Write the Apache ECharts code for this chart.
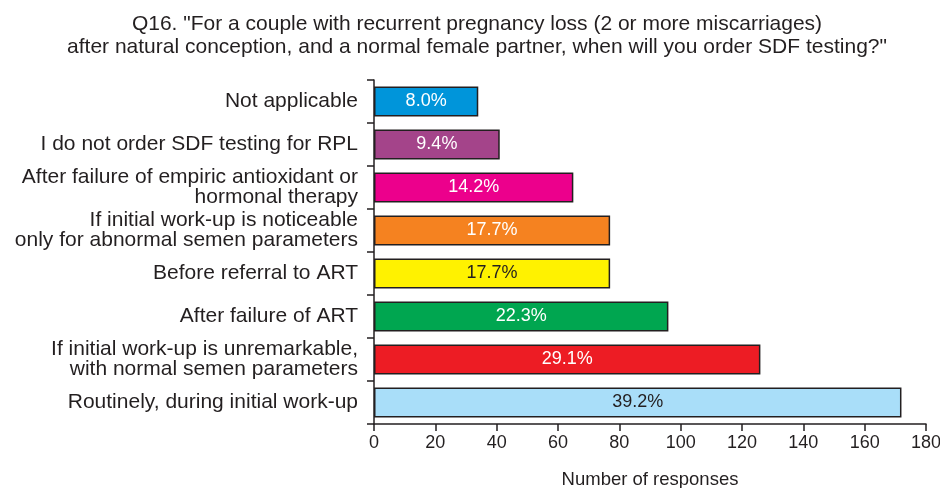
<!DOCTYPE html>
<html>
<head>
<meta charset="utf-8">
<script src="https://cdn.jsdelivr.net/npm/echarts@6/dist/echarts.min.js"></script>
<style>
  html, body { margin: 0; padding: 0; background: #fff; }
  #chart { width: 940px; height: 488px; }
</style>
</head>
<body>
<div id="chart"></div>
<script>
// categories, top to bottom
const categories = [
  "Not applicable",
  "I do not order SDF testing for RPL",
  "After failure of empiric antioxidant or\nhormonal therapy",
  "If initial work-up is noticeable\nonly for abnormal semen parameters",
  "Before referral to ART",
  "After failure of ART",
  "If initial work-up is unremarkable,\nwith normal semen parameters",
  "Routinely, during initial work-up"
];
const responses = [34, 41, 65, 77, 77, 96, 126, 172];
const percentLabels = ["8.0%", "9.4%", "14.2%", "17.7%", "17.7%", "22.3%", "29.1%", "39.2%"];
const barColors = ["#0095da", "#a4448a", "#ec008c", "#f58220", "#fff200", "#00a650", "#ed1c24", "#a9def9"];
const labelColors = ["#fff", "#fff", "#fff", "#fff", "#231f20", "#fff", "#fff", "#231f20"];
const xTicks = { min: 0, max: 180, interval: 20 };

const chart = echarts.init(document.getElementById("chart"));
const font = "'Liberation Sans', Arial, sans-serif";
const ink = "#231f20";

const option = {
  animation: false,
  title: {
    text: 'Q16. "For a couple with recurrent pregnancy loss (2 or more miscarriages)\nafter natural conception, and a normal female partner, when will you order SDF testing?"',
    left: 472,
    textAlign: "center",
    top: 8,
    textStyle: { fontFamily: font, fontSize: 21, fontWeight: "normal", color: ink, lineHeight: 23 }
  },
  grid: { left: 374, right: 14, top: 80, bottom: 64, outerBoundsMode: "none" },
  xAxis: {
    type: "value",
    min: xTicks.min,
    max: xTicks.max,
    interval: xTicks.interval,
    name: "Number of responses",
    nameLocation: "middle",
    nameGap: 46,
    nameTextStyle: { fontFamily: font, fontSize: 18.5, color: ink },
    splitLine: { show: false },
    axisLine: { show: true, lineStyle: { color: ink, width: 1.5 } },
    axisTick: { show: true, length: 7, lineStyle: { color: ink, width: 1.5 } },
    axisLabel: { fontFamily: font, fontSize: 18, color: ink, margin: 10 }
  },
  yAxis: {
    type: "category",
    inverse: true,
    data: categories,
    axisLine: { show: true, lineStyle: { color: ink, width: 1.5 } },
    axisTick: { show: true, length: 7, lineStyle: { color: ink, width: 1.5 } },
    axisLabel: { fontFamily: font, fontSize: 21, color: ink, margin: 16, lineHeight: 20, align: "right" }
  },
  series: [{
    type: "bar",
    barCategoryGap: "30%",
    data: responses.map((v, i) => ({
      value: v,
      itemStyle: { color: barColors[i] },
      label: { color: labelColors[i] }
    })),
    itemStyle: { borderColor: ink, borderWidth: 1.5 },
    label: {
      show: true,
      position: "inside",
      fontFamily: font,
      fontSize: 18,
      formatter: p => percentLabels[p.dataIndex]
    }
  }]
};

chart.setOption(option);
window.addEventListener("resize", () => chart.resize());
</script>
</body>
</html>
